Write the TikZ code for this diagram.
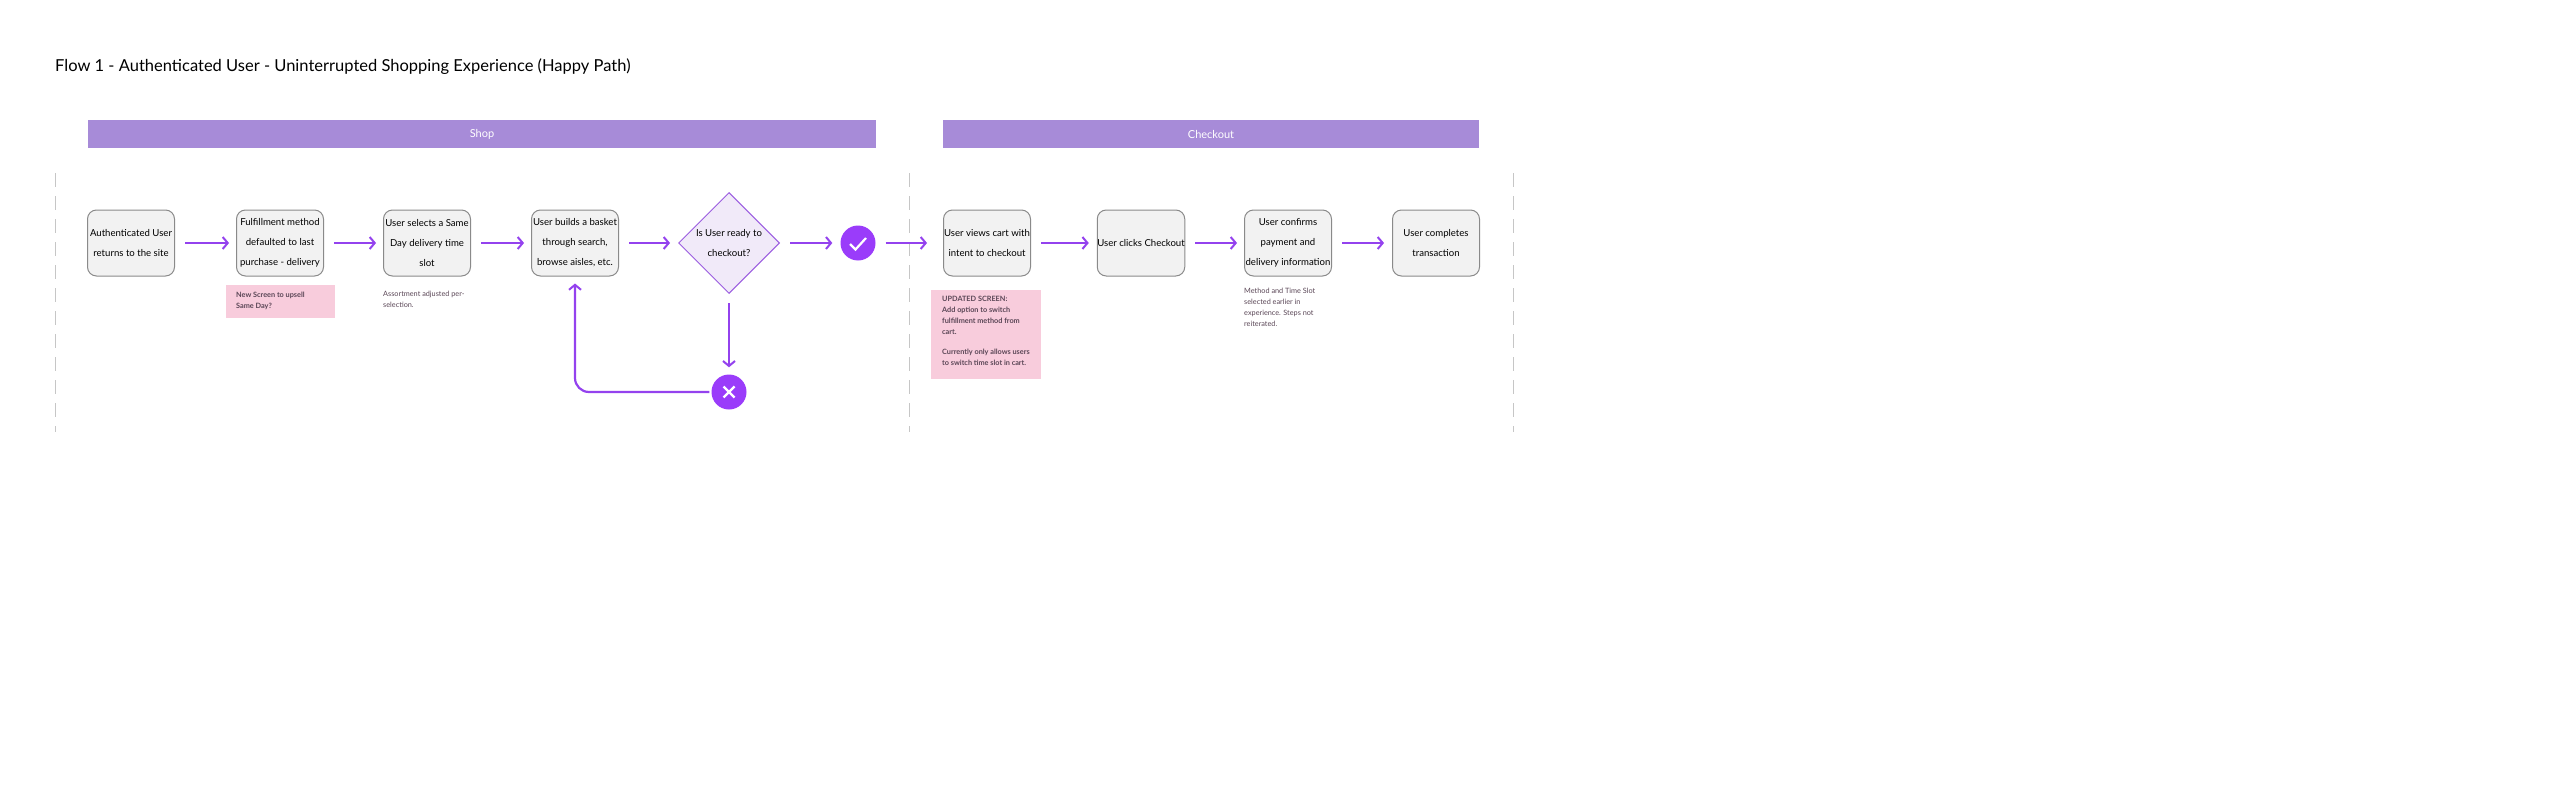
\documentclass[tikz,border=0pt]{standalone}
\usepackage{fontspec}
\setmainfont{Lato}
\usetikzlibrary{shapes.geometric,arrows.meta}
\definecolor{band}{HTML}{A78BD8}
\definecolor{arr}{HTML}{9442EE}
\definecolor{circ}{HTML}{9A3CFA}
\definecolor{boxf}{HTML}{F2F2F2}
\definecolor{boxd}{HTML}{8A8A8A}
\definecolor{dia}{HTML}{F1EAF9}
\definecolor{diad}{HTML}{9B5CE0}
\definecolor{pink}{HTML}{F8CCDC}
\definecolor{notec}{HTML}{5A4656}
\begin{document}
\begin{tikzpicture}[x=1pt,y=-1pt,
  box/.style={draw=boxd,fill=boxf,rounded corners=9pt,minimum width=87pt,minimum height=66pt,align=center,font=\fontsize{9.6}{20}\selectfont,inner sep=0pt,line width=1pt},
  ar/.style={draw=arr,line width=2.2pt,-{Straight Barb[length=5pt,width=12pt,line width=2pt]}},
  bandn/.style={fill=band,minimum height=28pt,text=white,font=\fontsize{11}{13}\selectfont,inner sep=0},
  circn/.style={circle,fill=circ,minimum size=35pt,inner sep=0},
  note/.style={anchor=north west,align=left,font=\fontsize{7.3}{11}\selectfont,text=notec,inner sep=0}]
\useasboundingbox (0,0) rectangle (2560,795);
\node[anchor=west,inner sep=0,font=\fontsize{16.5}{18}\selectfont] (title) at (55,67) {Flow 1 - Authenticated User - Uninterrupted Shopping Experience (Happy Path)};
\node[bandn,minimum width=788pt] (shop) at (482,134) {Shop};
\node[bandn,minimum width=536pt] (chk) at (1211,134) {Checkout};
\foreach \x in {55,909,1513}{\draw[gray!45,dash pattern=on 14pt off 9pt,line width=1pt] (\x,173) -- (\x,432);}
\node[box] (b1) at (131,243) {Authenticated User\\returns to the site};
\node[box] (b2) at (280,243) {Fulfillment method\\defaulted to last\\purchase - delivery};
\node[box] (b3) at (427,243) {User selects a Same\\Day delivery time\\slot};
\node[box] (b4) at (575,243) {User builds a basket\\through search,\\browse aisles, etc.};
\node[diamond,draw=diad,fill=dia,minimum width=101pt,minimum height=101pt,inner sep=0,line width=1pt,font=\fontsize{9.6}{20}\selectfont,align=center] (d) at (729,243) {Is User ready to\\checkout?};
\node[circn] (ok) at (858,243) {};
\draw[white,line width=2.2pt] (850,244) -- (855.5,249.5) -- (866,238);
\node[circn] (no) at (729,392) {};
\draw[white,line width=2.2pt] (723.5,386.5) -- (734.5,397.5) (734.5,386.5) -- (723.5,397.5);
\node[box] (b5) at (987,243) {User views cart with\\intent to checkout};
\node[box] (b6) at (1141,243) {User clicks Checkout};
\node[box] (b7) at (1288,243) {User confirms\\payment and\\delivery information};
\node[box] (b8) at (1436,243) {User completes\\transaction};
\draw[ar] ([xshift=10pt]b1.east) -- ([xshift=-7pt]b2.west);
\draw[ar] ([xshift=10pt]b2.east) -- ([xshift=-7pt]b3.west);
\draw[ar] ([xshift=10pt]b3.east) -- ([xshift=-7pt]b4.west);
\draw[ar] ([xshift=10pt]b4.east) -- ([xshift=-8pt]d.west);
\draw[ar] ([xshift=10pt]d.east) -- ([xshift=-8pt]ok.west);
\draw[ar] ([xshift=10pt]ok.east) -- ([xshift=-16pt]b5.west);
\draw[ar] ([xshift=10pt]b5.east) -- ([xshift=-8pt]b6.west);
\draw[ar] ([xshift=10pt]b6.east) -- ([xshift=-7pt]b7.west);
\draw[ar] ([xshift=10pt]b7.east) -- ([xshift=-8pt]b8.west);
\draw[ar] ([yshift=-9pt]d.south) -- ([yshift=7pt]no.north);
\draw[ar,rounded corners=14pt] ([xshift=-2pt]no.west) -| ([yshift=-7pt]b4.south);
\node[fill=pink,minimum width=109pt,minimum height=33pt,anchor=north west,inner sep=0] (p1) at (226,285) {};
\node[note,font=\bfseries\fontsize{7.3}{11}\selectfont] (p1t) at (236,292) {New Screen to upsell\\Same Day?};
\node[note] (n1) at (383,291) {Assortment adjusted per-\\selection.};
\node[fill=pink,minimum width=110pt,minimum height=89pt,anchor=north west,inner sep=0] (p2) at (931,290) {};
\node[note,font=\bfseries\fontsize{7.3}{11}\selectfont] (p2t) at (942,296) {UPDATED SCREEN:\\Add option to switch\\fulfillment method from\\cart.\\[9pt]Currently only allows users\\to switch time slot in cart.};
\node[note] (n2) at (1244,288) {Method and Time Slot\\selected earlier in\\experience. Steps not\\reiterated.};
\end{tikzpicture}
\end{document}
